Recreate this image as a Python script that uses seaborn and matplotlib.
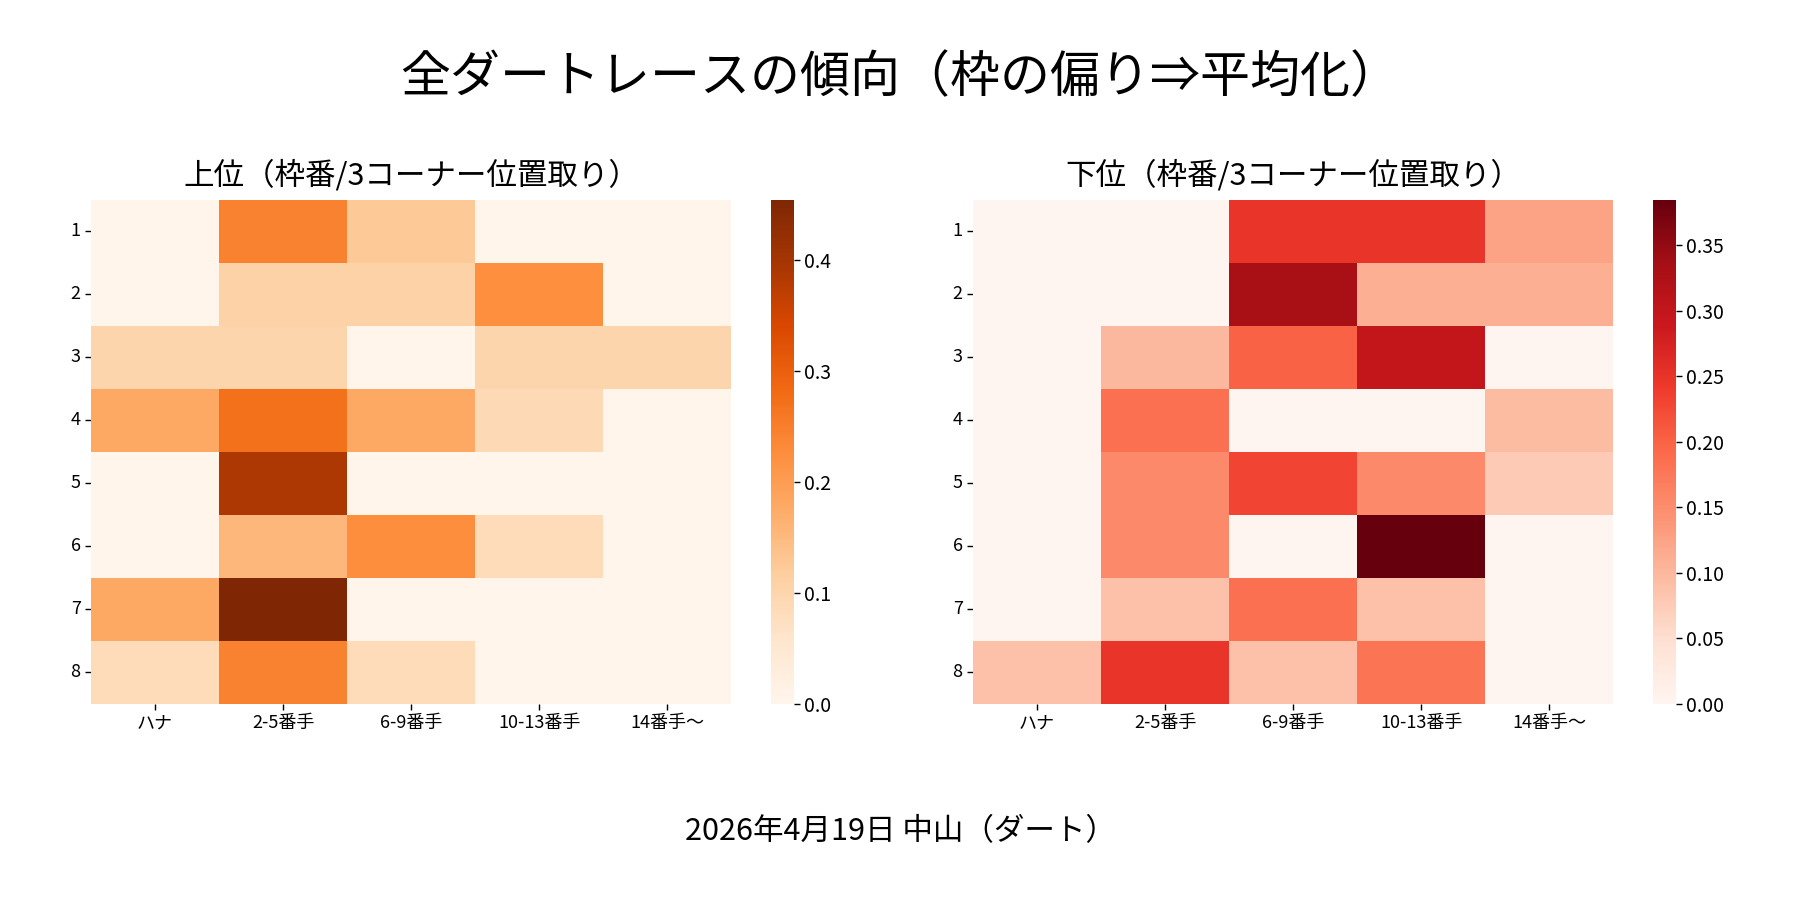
import matplotlib
matplotlib.use("Agg")
import matplotlib.pyplot as plt
import seaborn as sns
import pandas as pd

sns.set_theme(style="white")
plt.rcParams['font.family'] = ['Noto Sans CJK JP', 'DejaVu Sans']
plt.rcParams['text.color'] = 'black'
plt.rcParams['xtick.color'] = 'black'
plt.rcParams['ytick.color'] = 'black'
plt.rcParams['axes.labelcolor'] = 'black'

# 枠番 / 3コーナー位置取り
waku = [1, 2, 3, 4, 5, 6, 7, 8]
positions = ['ハナ', '2-5番手', '6-9番手', '10-13番手', '14番手～']

# 上位（割合）
top_vals = [
    [0.000, 0.245, 0.125, 0.000, 0.000],
    [0.000, 0.110, 0.110, 0.225, 0.000],
    [0.100, 0.100, 0.000, 0.100, 0.100],
    [0.180, 0.270, 0.180, 0.090, 0.000],
    [0.000, 0.390, 0.000, 0.000, 0.000],
    [0.000, 0.155, 0.227, 0.085, 0.000],
    [0.180, 0.4545, 0.000, 0.000, 0.000],
    [0.085, 0.245, 0.085, 0.000, 0.000],
]

# 下位（割合）
bottom_vals = [
    [0.000, 0.000, 0.250, 0.250, 0.125],
    [0.000, 0.000, 0.333, 0.110, 0.110],
    [0.000, 0.100, 0.200, 0.300, 0.000],
    [0.000, 0.185, 0.000, 0.000, 0.095],
    [0.000, 0.154, 0.230, 0.154, 0.077],
    [0.000, 0.154, 0.000, 0.3846, 0.000],
    [0.000, 0.090, 0.185, 0.090, 0.000],
    [0.090, 0.250, 0.090, 0.180, 0.000],
]

title = '全ダートレースの傾向（枠の偏り⇒平均化）'
subtitles = ['上位（枠番/3コーナー位置取り）', '下位（枠番/3コーナー位置取り）']
footer = '2026年4月19日 中山（ダート）'

df_top = pd.DataFrame(top_vals, index=waku, columns=positions)
df_bottom = pd.DataFrame(bottom_vals, index=waku, columns=positions)

fig = plt.figure(figsize=(18, 9), dpi=100)
ax1 = fig.add_axes([0.0506, 0.218, 0.3556, 0.56])
cax1 = fig.add_axes([0.4283, 0.218, 0.0128, 0.56])
ax2 = fig.add_axes([0.5406, 0.218, 0.3556, 0.56])
cax2 = fig.add_axes([0.9183, 0.218, 0.0128, 0.56])

sns.heatmap(df_top, cmap='Oranges', ax=ax1, cbar_ax=cax1)
sns.heatmap(df_bottom, cmap='Reds', ax=ax2, cbar_ax=cax2)

for ax, st in zip([ax1, ax2], subtitles):
    ax.set_title(st, fontsize=22, pad=11)
    ax.tick_params(axis='both', labelsize=13, left=True, bottom=True, length=4, width=1)
    ax.set_yticklabels(ax.get_yticklabels(), rotation=0)
    ax.set_xticklabels(ax.get_xticklabels(), rotation=0)
    ax.set_xlabel('')
    ax.set_ylabel('')

for cax in [cax1, cax2]:
    cax.tick_params(labelsize=14, right=True, length=4, width=1)

fig.suptitle(title, fontsize=36, y=0.913, va='center')
fig.text(0.5, 0.076, footer, ha='center', va='center', fontsize=22)

plt.savefig('out.png', dpi=100)
